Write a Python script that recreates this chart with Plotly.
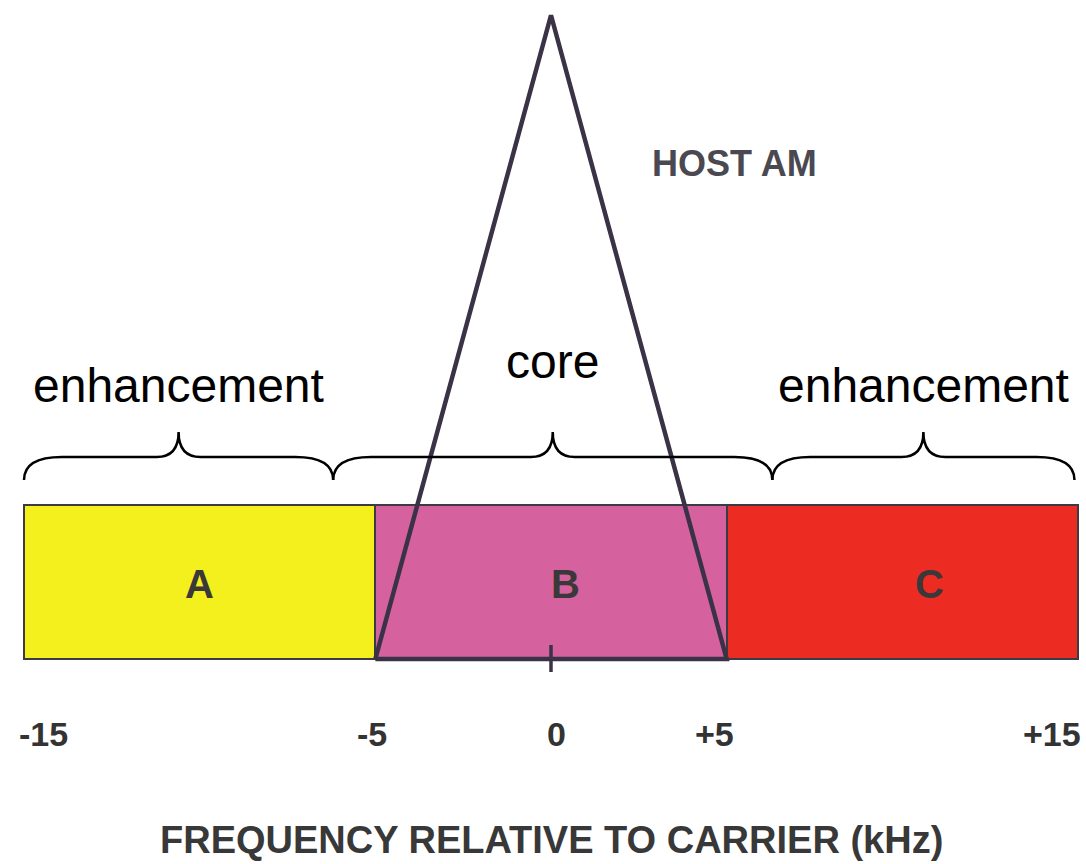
import plotly.graph_objects as go

# ---- data ----
band_names = ["A", "B", "C"]
band_centers = [-10, 0, 10]          # kHz
band_widths = [10, 10, 10]           # kHz
band_heights = [1, 1, 1]             # relative level
band_colors = ["#F4F01E", "#D6619F", "#EC2C22"]

host_x = [-5, 0, 5, -5]              # kHz
host_y = [0, 4.18, 0, 0]             # relative level

tick_vals = [-15, -5, 0, 5, 15]
tick_text = ["-15", "-5", "0", "+5", "+15"]

brace_start = [-15, -6.2, 6.3]
brace_end = [-6.2, 6.3, 14.9]
brace_text = ["enhancement", "core", "enhancement"]

x_title = "FREQUENCY RELATIVE TO CARRIER (kHz)"

# ---- geometry helpers (pixel -> data) ----
W, H = 1086, 864
PX_X = 1 / 35.133   # kHz per px
PX_Y = 1 / 154.0    # level per px
X_RANGE = [-15 - 24 * PX_X, -15 + (W - 24) * PX_X]
Y_RANGE = [-(H - 659) * PX_Y, 659 * PX_Y]

FONT = "Liberation Sans, Arial"

fig = go.Figure()

fig.add_trace(go.Bar(
    x=band_centers, y=band_heights, width=band_widths,
    marker=dict(color=band_colors, line=dict(color="#3c3a44", width=2)),
    hoverinfo="skip", showlegend=False,
))

fig.add_trace(go.Scatter(
    x=host_x, y=host_y, mode="lines",
    line=dict(color="#3a3246", width=4.5),
    hoverinfo="skip", showlegend=False,
))

# center tick
fig.add_trace(go.Scatter(
    x=[tick_vals[2], tick_vals[2]], y=[14 * PX_Y, -13 * PX_Y], mode="lines",
    line=dict(color="#3a3246", width=3.5),
    hoverinfo="skip", showlegend=False,
))

# braces
yb = (659 - 480) * PX_Y
yh = (659 - 457) * PX_Y
yt = (659 - 432) * PX_Y
r1 = 38 * PX_X
r2 = 22 * PX_X
for xs, xe in zip(brace_start, brace_end):
    xm = (xs + xe) / 2
    path = (f"M {xs},{yb} Q {xs},{yh} {xs + r1},{yh} L {xm - r2},{yh} "
            f"Q {xm},{yh} {xm},{yt} Q {xm},{yh} {xm + r2},{yh} "
            f"L {xe - r1},{yh} Q {xe},{yh} {xe},{yb}")
    fig.add_shape(type="path", path=path, xref="x", yref="y",
                  line=dict(color="black", width=2.5))

brace_label_y = [(659 - 385) * PX_Y, (659 - 361) * PX_Y, (659 - 385) * PX_Y]
for xs, xe, t, yy in zip(brace_start, brace_end, brace_text, brace_label_y):
    fig.add_annotation(x=(xs + xe) / 2, y=yy, text=t, showarrow=False,
                       font=dict(family=FONT, size=48, color="black"),
                       xanchor="center", yanchor="middle")

# band letters
letter_shift = [0, 14, 27]
for name, cx, sh in zip(band_names, band_centers, letter_shift):
    fig.add_annotation(x=cx, y=(659 - 584) * PX_Y, text=f"<b>{name}</b>", showarrow=False,
                       xshift=sh,
                       font=dict(family=FONT, size=40, color="#3a3838"),
                       xanchor="center", yanchor="middle")

# HOST AM
fig.add_annotation(x=(734 - 551) * PX_X, y=(659 - 163) * PX_Y, text="<b>HOST AM</b>",
                   showarrow=False,
                   font=dict(family=FONT, size=36, color="#4a4850"),
                   xanchor="center", yanchor="middle")

# tick labels
tick_anchor = ["left", "center", "center", "center", "right"]
tick_shift = [-7, -3, 5, -12, 5]
for v, t, a, s in zip(tick_vals, tick_text, tick_anchor, tick_shift):
    fig.add_annotation(x=v, y=(659 - 734) * PX_Y, text=f"<b>{t}</b>", showarrow=False,
                       xanchor=a, yanchor="middle", xshift=s,
                       font=dict(family=FONT, size=34, color="#333333"))

# axis title
fig.add_annotation(x=0, y=(659 - 840) * PX_Y, text=f"<b>{x_title}</b>", showarrow=False,
                   xanchor="center", yanchor="middle",
                   font=dict(family=FONT, size=38, color="#383838"))

fig.update_layout(
    width=W, height=H,
    margin=dict(l=0, r=0, t=0, b=0),
    paper_bgcolor="white", plot_bgcolor="white",
    xaxis=dict(range=X_RANGE, visible=False, fixedrange=True),
    yaxis=dict(range=Y_RANGE, visible=False, fixedrange=True),
    bargap=0,
)

fig.write_html("out.html",
               config={"displayModeBar": False},
               post_script="document.body.style.margin='0';document.body.style.overflow='hidden';")
